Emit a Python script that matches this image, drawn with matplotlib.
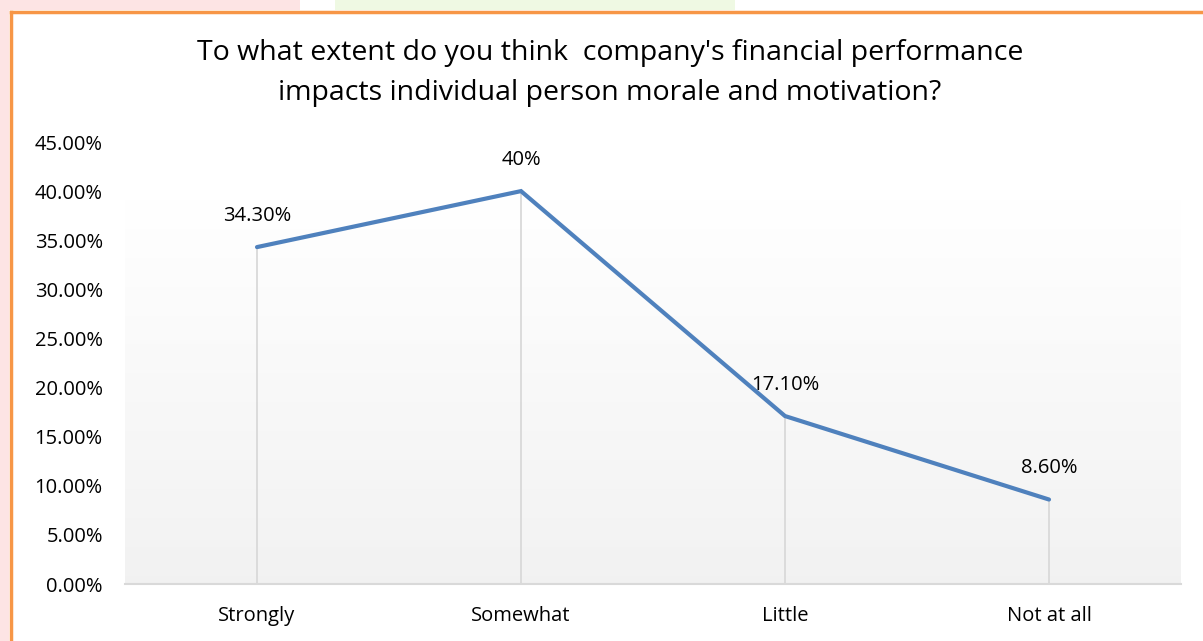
"""
Line chart: company financial performance vs individual morale/motivation.
Output: out.png
"""

import numpy as np
import matplotlib.pyplot as plt
from matplotlib.patches import Rectangle
from matplotlib.lines import Line2D

CATEGORIES = ["Strongly", "Somewhat", "Little", "Not at all"]
VALUES = [34.3, 40.0, 17.1, 8.6]
LABELS = ["34.30%", "40%", "17.10%", "8.60%"]
Y_TICKS = [0, 5, 10, 15, 20, 25, 30, 35, 40, 45]

TITLE = ("To what extent do you think  company's financial performance\n"
         "impacts individual person morale and motivation?")

LINE_COLOR = "#4f81bd"
ORANGE = "#f79646"


def main() -> None:
    plt.rcParams["font.family"] = ["Open Sans", "DejaVu Sans"]

    W, H = 1203, 641
    fig = plt.figure(figsize=(W / 100, H / 100), dpi=100)

    # plot area in pixels: left 125, right 1181, bottom 584, top 142
    ax = fig.add_axes([125 / W, 1 - 584 / H, (1181 - 125) / W, (584 - 142) / H])
    ax.set_xlim(-0.5, len(CATEGORIES) - 0.5)
    ax.set_ylim(0, 45)

    # background gradient: light gray at bottom fading to white near the top
    frac = np.linspace(0.0, 1.0, 256).reshape(-1, 1)  # 0 = bottom, 1 = top
    shade = 0.948 + 0.052 * np.clip(frac / 0.87, 0, 1)
    img = np.dstack([shade, shade, shade])
    ax.imshow(img, extent=[-0.5, len(CATEGORIES) - 0.5, 0, 45], origin="lower",
              aspect="auto", zorder=0)
    ax.add_patch(Rectangle((-0.5, 39.5), len(CATEGORIES), 5.5, color="white", zorder=0.5))

    x = np.arange(len(CATEGORIES))
    ax.vlines(x, 0, VALUES, color="#d9d9d9", linewidth=1.3, zorder=1)
    ax.plot(x, VALUES, color=LINE_COLOR, linewidth=3.0, solid_capstyle="round",
            solid_joinstyle="miter", zorder=3)

    for xi, v, lab in zip(x, VALUES, LABELS):
        ax.annotate(lab, (xi, v), xytext=(0, 22.5), textcoords="offset points",
                    ha="center", va="center", fontsize=14.5, color="#000000", zorder=4)

    ax.set_xticks(x)
    ax.set_xticklabels(CATEGORIES, fontsize=14.5)
    ax.set_yticks(Y_TICKS)
    ax.set_yticklabels([f"{t:.2f}%" for t in Y_TICKS], fontsize=14.5)
    ax.tick_params(axis="x", length=0, pad=16)
    ax.tick_params(axis="y", length=0, pad=16)

    for side in ["top", "right", "left"]:
        ax.spines[side].set_visible(False)
    ax.spines["bottom"].set_color("#d9d9d9")
    ax.spines["bottom"].set_linewidth(1.5)

    fig.text(610 / W, 1 - 73 / H, TITLE, ha="center", va="center",
             fontsize=20.5, linespacing=1.57)

    # page decoration: orange frame on left and top, faint watermark strip
    fig.add_artist(Rectangle((0, 1 - 10 / H), 300 / W, 10 / H,
                             transform=fig.transFigure, color="#fde4e4", lw=0))
    fig.add_artist(Rectangle((335 / W, 1 - 10 / H), 400 / W, 10 / H,
                             transform=fig.transFigure, color="#eff9e3", lw=0))
    fig.add_artist(Rectangle((0, 0), 9 / W, 1, transform=fig.transFigure,
                             color="#fde4e4", lw=0))
    fig.add_artist(Line2D([11 / W, 11 / W], [0, 1 - 12 / H], transform=fig.transFigure,
                          color=ORANGE, linewidth=2.5))
    fig.add_artist(Line2D([11 / W, 1], [1 - 12 / H, 1 - 12 / H], transform=fig.transFigure,
                          color=ORANGE, linewidth=2.5))

    fig.savefig("out.png", dpi=100)


if __name__ == "__main__":
    main()
